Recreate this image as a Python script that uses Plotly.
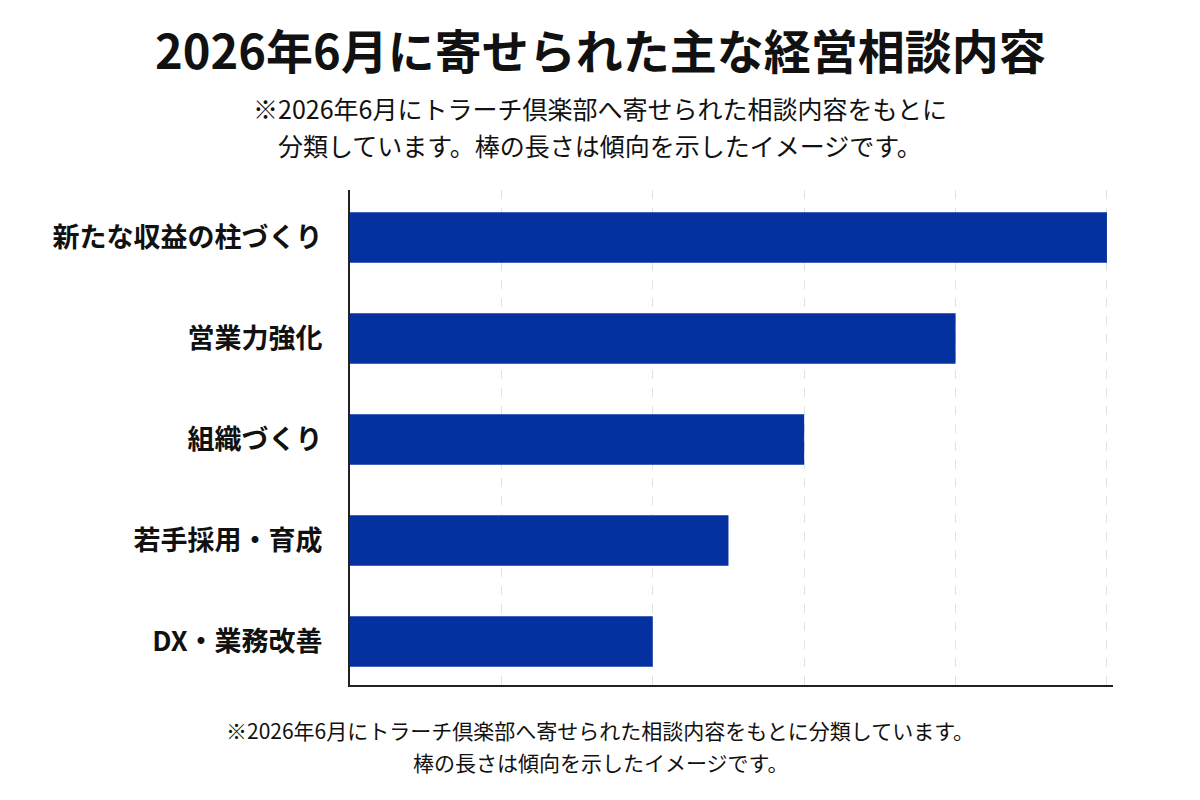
import plotly.graph_objects as go

categories = ["新たな収益の柱づくり", "営業力強化", "組織づくり", "若手採用・育成", "DX・業務改善"]
values = [5, 4, 3, 2.5, 2]

title_text = "2026年6月に寄せられた主な経営相談内容"
subtitle_lines = ["※2026年6月にトラーチ倶楽部へ寄せられた相談内容をもとに",
                  "分類しています。棒の長さは傾向を示したイメージです。"]
footer_lines = ["※2026年6月にトラーチ倶楽部へ寄せられた相談内容をもとに分類しています。",
                "棒の長さは傾向を示したイメージです。"]

FONT = "Noto Sans CJK JP"
BAR = "#0530A0"

fig = go.Figure(go.Bar(
    x=values, y=categories, orientation="h",
    marker=dict(color=BAR, line=dict(width=0)),
    width=0.5, hoverinfo="skip",
))

fig.update_layout(
    width=1200, height=800,
    margin=dict(l=350, r=87, t=190, b=115),
    paper_bgcolor="white", plot_bgcolor="white",
    font=dict(family=FONT, color="#111"),
    showlegend=False,
)
fig.update_xaxes(range=[0, 5.04], showticklabels=False, ticks="",
                 showgrid=True, gridcolor="#e2e2e6", griddash="dash", gridwidth=1,
                 dtick=1, tick0=0, zeroline=False,
                 showline=True, linecolor="#222", linewidth=2)
fig.update_yaxes(autorange=False, range=[4.43, -0.47], ticks="",
                 showline=True, linecolor="#222", linewidth=2,
                 tickfont=dict(size=27, family=FONT, color="#111", weight="bold"),
                 ticklabelstandoff=20, showgrid=False)

plot_w = 1200 - 350 - 87
plot_h = 800 - 190 - 115
texts = [
    ("<b>" + title_text + "</b>", 49, 47),
    (subtitle_lines[0], 108, 25),
    (subtitle_lines[1], 145, 25),
    (footer_lines[0], 730, 21),
    (footer_lines[1], 762, 21),
]
for txt, ypix, size in texts:
    fig.add_annotation(text=txt, xref="paper", yref="paper",
                       x=(600 - 350) / plot_w, y=(800 - 115 - ypix) / plot_h,
                       showarrow=False, xanchor="center", yanchor="middle",
                       font=dict(family=FONT, color="#111", size=size))

fig.write_html("out.html")
